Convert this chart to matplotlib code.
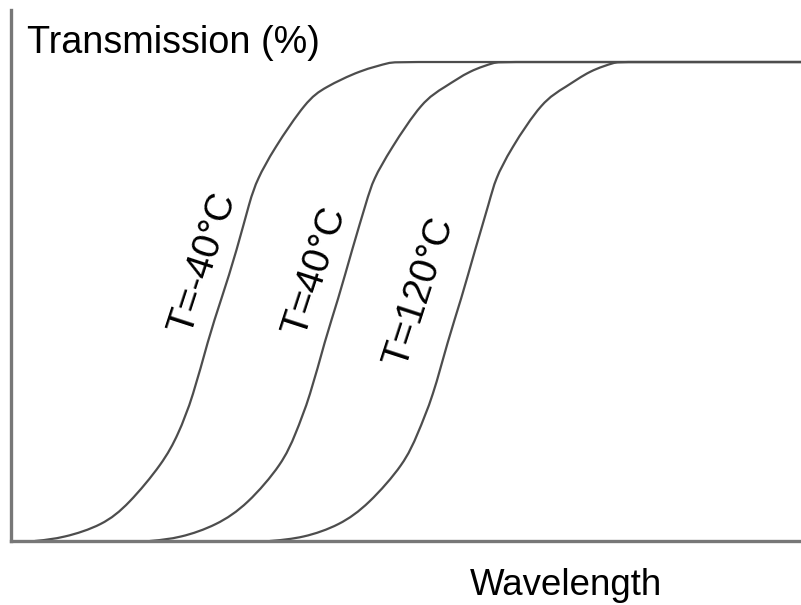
import matplotlib
matplotlib.use("Agg")
import matplotlib.pyplot as plt
import numpy as np
from matplotlib.path import Path
from matplotlib.patches import PathPatch

plt.rcParams['font.family'] = ['Liberation Sans', 'DejaVu Sans']

# Shared transmission levels (%)
transmission = [0, 0.6, 3.3, 7.5, 16.3, 22.1, 30.1, 42.0, 50.3, 60.8,
                71.2, 75.4, 81.6, 92.1, 94.6, 98.3, 100, 100]

# Wavelength (arbitrary units) at each transmission level, per temperature
wl_m40 = [24, 52, 92, 117, 152, 167, 182, 197, 210, 226,
          239, 246, 262, 296, 313, 349, 382, 790]
wl_40 = [139, 169, 206, 236, 272, 284, 299, 314, 327, 341,
         356, 362, 379, 412, 433, 459, 486, 790]
wl_120 = [259, 292, 329, 357, 394, 406, 422, 437, 450, 464,
          479, 484, 499, 532, 554, 579, 606, 790]

labels = ["T=-40°C", "T=40°C", "T=120°C"]
label_x = [192, 304, 409]
label_y = [58.0, 56.2, 52.0]

W, H = 801, 605
fig = plt.figure(figsize=(W / 100, H / 100), dpi=100)
ax = fig.add_axes([11 / W, (H - 541) / H, 790 / W, (541 - 10) / H])
ax.set_xlim(0, 790)
ax.set_ylim(0, 110.86)

curve_color = '#4d4d4d'


def smooth_path(xs, ys):
    """Draw the read points as a clamped uniform cubic B-spline
    (rendered with Bezier segments). The point where the curve reaches
    the plateau is weighted (doubled) so the line meets it there."""
    P = np.column_stack([xs, ys]).astype(float)
    P = np.vstack([P[:1], P[:1], P[:-1], P[-2:-1], P[-1:], P[-1:], P[-1:]])
    verts = []
    codes = []
    for i in range(len(P) - 3):
        p0, p1, p2, p3 = P[i], P[i + 1], P[i + 2], P[i + 3]
        b0 = (p0 + 4 * p1 + p2) / 6.0
        b1 = (2 * p1 + p2) / 3.0
        b2 = (p1 + 2 * p2) / 3.0
        b3 = (p1 + 4 * p2 + p3) / 6.0
        if i == 0:
            verts.append(tuple(b0))
            codes.append(Path.MOVETO)
        verts += [tuple(b1), tuple(b2), tuple(b3)]
        codes += [Path.CURVE4] * 3
    return Path(verts, codes)


for wl in (wl_m40, wl_40, wl_120):
    patch = PathPatch(smooth_path(wl, transmission), facecolor='none',
                      edgecolor=curve_color, lw=1.6, capstyle='round',
                      joinstyle='round')
    ax.add_patch(patch)

for txt, x, y in zip(labels, label_x, label_y):
    ax.text(x, y, txt, rotation=72, rotation_mode='anchor',
            ha='center', va='center', fontsize=28, color='black')

ax.set_xticks([])
ax.set_yticks([])
for s in ('top', 'right'):
    ax.spines[s].set_visible(False)
for s in ('left', 'bottom'):
    ax.spines[s].set_color('#777777')
    ax.spines[s].set_linewidth(2.4)

fig.text(27 / W, (H - 53) / H, "Transmission (%)", fontsize=27.2,
         ha='left', va='baseline', color='black')
fig.text(470 / W, (H - 595) / H, "Wavelength", fontsize=26.4,
         ha='left', va='baseline', color='black')

fig.savefig("out.png", dpi=100, facecolor='white')
